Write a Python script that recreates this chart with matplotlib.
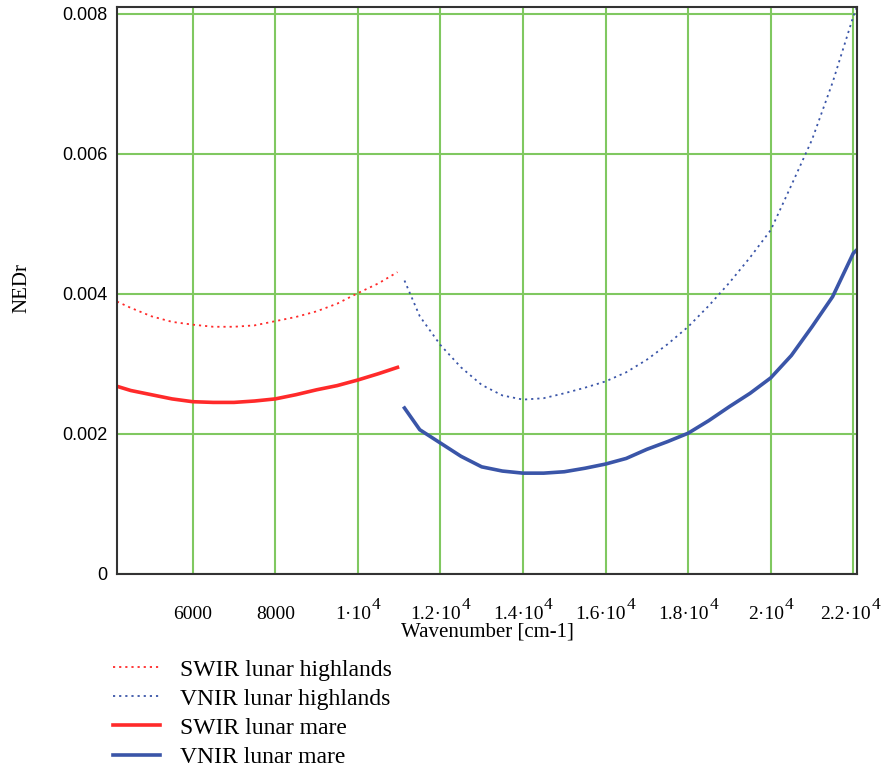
import matplotlib
matplotlib.use("Agg")
import matplotlib.pyplot as plt

# values
swir_x = [4167, 4500, 5000, 5500, 6000, 6500, 7000, 7500, 8000, 8500,
          9000, 9500, 10000, 10500, 10960]
swir_highlands = [0.00389, 0.00380, 0.00368, 0.00360, 0.00356, 0.00353, 0.00353,
                  0.00355, 0.00361, 0.00367, 0.00375, 0.00386, 0.00401, 0.00415,
                  0.00431]
swir_mare = [0.00268, 0.00262, 0.00256, 0.00250, 0.00246, 0.00245, 0.00245,
             0.00247, 0.00250, 0.00256, 0.00263, 0.00269, 0.00277, 0.00286,
             0.00295]

vnir_x = [11130, 11500, 12000, 12500, 13000, 13500, 14000, 14500, 15000, 15500,
          16000, 16500, 17000, 17500, 18000, 18500, 19000, 19500, 20000, 20500,
          21000, 21500, 22000, 22090]
vnir_highlands = [0.00419, 0.00368, 0.00327, 0.00295, 0.00270, 0.00255, 0.00249,
                  0.00251, 0.00258, 0.00266, 0.00275, 0.00288, 0.00306, 0.00328,
                  0.00353, 0.00383, 0.00416, 0.00452, 0.00491, 0.00555, 0.00620,
                  0.00702, 0.00796, 0.00810]
vnir_mare = [0.00237, 0.00206, 0.00187, 0.00168, 0.00153, 0.00147, 0.00144,
             0.00144, 0.00146, 0.00151, 0.00157, 0.00165, 0.00178, 0.00189,
             0.00201, 0.00219, 0.00239, 0.00258, 0.00280, 0.00312, 0.00353,
             0.00396, 0.00458, 0.00463]

x_ticks = [6000, 8000, 10000, 12000, 14000, 16000, 18000, 20000, 22000]
x_tick_labels = ["6000", "8000", "1·10", "1.2·10", "1.4·10", "1.6·10",
                 "1.8·10", "2·10", "2.2·10"]
x_tick_exponents = ["", "", "4", "4", "4", "4", "4", "4", "4"]
y_ticks = [0, 0.002, 0.004, 0.006, 0.008]
y_tick_labels = ["0", "0.002", "0.004", "0.006", "0.008"]

red = "#ff2a2a"
blue = "#3a55a8"
grid_green = "#80c860"
dots = (0, (1.2, 2.2))
serif = "Liberation Serif"
W, H = 882, 771

fig = plt.figure(figsize=(8.82, 7.71), dpi=100)
ax = fig.add_axes([117 / W, 1 - 574 / H, 740 / W, 567.3 / H])

ax.plot(swir_x, swir_highlands, color=red, lw=1.3, linestyle=dots,
        label="SWIR lunar highlands")
ax.plot(vnir_x, vnir_highlands, color=blue, lw=1.3, linestyle=dots,
        label="VNIR lunar highlands")
ax.plot(swir_x, swir_mare, color=red, lw=2.6, label="SWIR lunar mare")
ax.plot(vnir_x, vnir_mare, color=blue, lw=2.6, label="VNIR lunar mare")

ax.set_xlim(4167, 22090)
ax.set_ylim(0, 0.0081)
ax.set_xticks(x_ticks)
ax.set_xticklabels([])
ax.set_yticks(y_ticks)
ax.set_yticklabels(y_tick_labels, fontsize=13, family="Liberation Sans")
ax.tick_params(length=0)
ax.tick_params(axis="y", pad=7)
ax.grid(True, color=grid_green, lw=1.5)
ax.set_axisbelow(True)
for s in ax.spines.values():
    s.set_color("#333333")
    s.set_linewidth(1.5)

# x tick labels: base text plus a raised exponent, centred as one group
base_y = (H - 619) / H
exp_y = (H - 609) / H
renderer = fig.canvas.get_renderer()
for tick, base, exp in zip(x_ticks, x_tick_labels, x_tick_exponents):
    cx = ax.transData.transform((tick, 0))[0]
    t = fig.text(0, base_y, base, ha="left", va="baseline", fontsize=14, family=serif)
    bw = t.get_window_extent(renderer).width
    ew = 0
    if exp:
        e = fig.text(0, exp_y, exp, ha="left", va="baseline", fontsize=12.5,
                     family=serif)
        ew = e.get_window_extent(renderer).width + 0.5
    x0 = min(cx - (bw + ew) / 2, W - 2 - bw - ew)
    t.set_x(x0 / W)
    if exp:
        e.set_x((x0 + bw + 0.5) / W)

fig.text(487 / W, 1 - 637 / H, "Wavenumber [cm-1]", ha="center", va="baseline",
         fontsize=15, family=serif)
fig.text(22 / W, 1 - 288 / H, "NEDr", rotation=90, ha="center", va="center",
         fontsize=15, family=serif)

fig.legend(loc="upper left", bbox_to_anchor=(113 / W, 1 - 659 / H),
           frameon=False, borderpad=0, borderaxespad=0, handlelength=2.0,
           handletextpad=0.85, labelspacing=0.32,
           prop={"family": serif, "size": 17})

fig.savefig("out.png", dpi=100)
